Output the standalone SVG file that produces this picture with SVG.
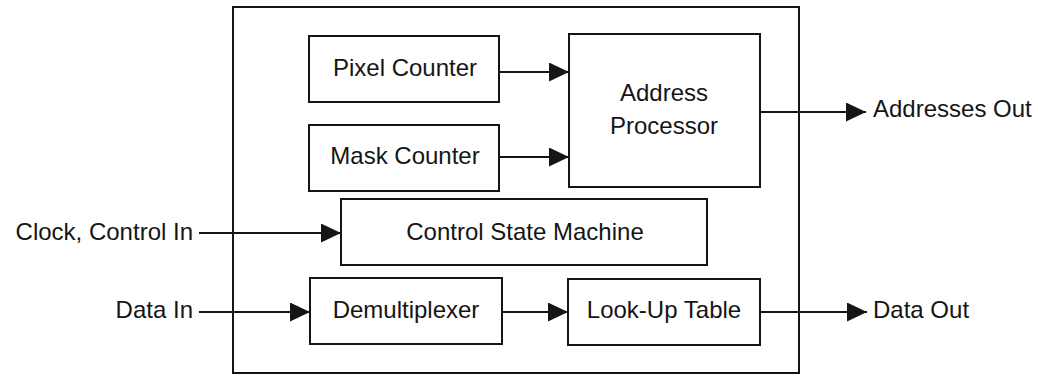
<svg xmlns="http://www.w3.org/2000/svg" width="1038" height="376" viewBox="0 0 1038 376">
<style>
.box{fill:#fff;stroke:#151515;stroke-width:2}
.line{fill:none;stroke:#151515;stroke-width:2}
text{font-family:"Liberation Sans",Arial,sans-serif;font-size:24px;fill:#151515}
.c{text-anchor:middle}
.e{text-anchor:end}
</style>
<defs>
<marker id="arr" viewBox="0 0 20 19" refX="20" refY="9.5" markerWidth="20" markerHeight="19" markerUnits="userSpaceOnUse" orient="auto">
<path d="M0,0 L20,9.5 L0,19 z" fill="#151515"/>
</marker>
</defs>
<rect id="outer" class="box" x="233" y="7" width="566" height="366"/>
<g id="pixel-counter">
<rect class="box" x="309" y="36" width="190" height="66"/>
<text class="c" x="405" y="76">Pixel Counter</text>
</g>
<g id="mask-counter">
<rect class="box" x="309" y="125" width="190" height="66"/>
<text class="c" x="405" y="164">Mask Counter</text>
</g>
<g id="address-processor">
<rect class="box" x="569" y="34" width="191" height="153"/>
<text class="c" x="664" y="101">Address</text>
<text class="c" x="664" y="134">Processor</text>
</g>
<g id="control-state-machine">
<rect class="box" x="341" y="199" width="366" height="66"/>
<text class="c" x="525" y="240">Control State Machine</text>
</g>
<g id="demultiplexer">
<rect class="box" x="310" y="278" width="192" height="66"/>
<text class="c" x="406" y="318">Demultiplexer</text>
</g>
<g id="look-up-table">
<rect class="box" x="568" y="279" width="192" height="66"/>
<text class="c" x="664" y="318">Look-Up Table</text>
</g>
<g id="labels">
<text class="e" x="193" y="240">Clock, Control In</text>
<text class="e" x="193" y="318">Data In</text>
<text x="873" y="117">Addresses Out</text>
<text x="873" y="318">Data Out</text>
</g>
<g id="connectors">
<line class="line" x1="499" y1="72" x2="569" y2="72" marker-end="url(#arr)"/>
<line class="line" x1="499" y1="157" x2="569" y2="157" marker-end="url(#arr)"/>
<line class="line" x1="760" y1="112" x2="866" y2="112" marker-end="url(#arr)"/>
<line class="line" x1="199" y1="233" x2="341" y2="233" marker-end="url(#arr)"/>
<line class="line" x1="199" y1="312" x2="310" y2="312" marker-end="url(#arr)"/>
<line class="line" x1="502" y1="312" x2="568" y2="312" marker-end="url(#arr)"/>
<line class="line" x1="760" y1="312" x2="867" y2="312" marker-end="url(#arr)"/>
</g>
</svg>
